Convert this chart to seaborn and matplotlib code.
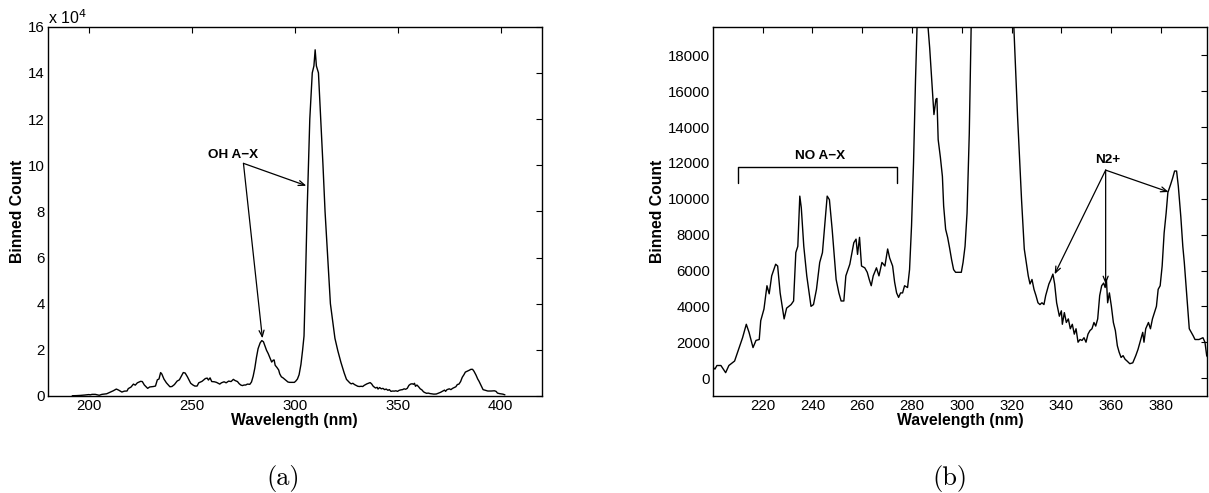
import numpy as np
import pandas as pd
import seaborn as sns
import matplotlib.pyplot as plt

# emission spectrum (wavelength in nm, binned counts)
wavelength = [
    192.0, 194.0, 196.0, 198.0, 200.0, 200.8, 201.6, 203.2, 205.1, 206.4,
    208.7, 210.3, 211.9, 213.4, 214.5, 216.1, 217.3, 218.6, 219.2, 220.5,
    221.7, 222.6, 223.6, 225.2, 226.0, 227.0, 228.6, 229.6, 231.4, 232.4,
    233.3, 234.1, 234.9, 235.5, 236.5, 237.7, 238.8, 239.4, 240.4, 241.6,
    242.9, 244.0, 244.8, 245.9, 246.8, 247.9, 249.5, 250.6, 251.5, 252.6,
    253.4, 255.0, 256.6, 257.5, 258.1, 258.9, 259.7, 261.0, 262.0, 262.8,
    263.6, 264.4, 265.7, 266.7, 267.9, 269.1, 270.2, 271.0, 272.2, 273.0,
    273.8, 274.6, 275.4, 276.2, 277.0, 278.2, 279.0, 279.8, 280.6, 281.4,
    282.2, 283.2, 284.0, 284.8, 285.6, 286.3, 287.1, 288.0, 288.8, 289.6,
    290.0, 290.5, 291.4, 292.2, 292.7, 293.5, 294.3, 295.1, 295.9, 296.7,
    297.5, 298.7, 299.8, 300.5, 301.3, 302.1, 303.0, 303.8, 304.5, 305.2,
    306.0, 307.3, 308.5, 309.3, 309.9, 310.5, 311.5, 312.6, 313.7, 314.7,
    316.0, 317.3, 318.5, 319.5, 320.9, 322.4, 324.0, 325.1, 325.9, 326.7,
    327.4, 328.2, 329.0, 329.8, 330.6, 331.4, 332.2, 333.0, 333.7, 335.0,
    335.8, 336.6, 337.3, 338.1, 339.2, 340.0, 340.4, 341.2, 342.0, 342.8,
    343.6, 344.4, 345.2, 345.9, 346.7, 347.5, 348.3, 349.1, 349.9, 350.7,
    351.5, 352.3, 353.1, 353.8, 354.6, 355.4, 356.2, 357.0, 357.6, 358.1,
    358.6, 359.3, 360.1, 360.9, 361.7, 362.5, 363.2, 364.0, 364.8, 365.6,
    366.4, 367.5, 368.7, 369.9, 370.8, 371.9, 372.7, 373.2, 373.9, 375.0,
    375.8, 376.6, 377.4, 378.2, 378.9, 379.7, 380.5, 381.3, 382.1, 382.8,
    383.9, 384.7, 385.5, 386.3, 387.0, 388.0, 388.8, 389.4, 390.3, 391.4,
    392.2, 393.0, 393.7, 395.3, 396.9, 397.7, 398.4, 399.5, 401.0, 402.0,
]
counts = [
    100, 150, 250, 400, 600, 500, 700, 700, 300, 700,
    950, 1600, 2250, 3000, 2550, 1700, 2100, 2150, 3200, 3850,
    5150, 4700, 5700, 6350, 6250, 4750, 3300, 3900, 4100, 4300,
    7000, 7350, 10150, 9500, 7350, 5700, 4600, 4000, 4100, 4950,
    6450, 7000, 8300, 10150, 9950, 8300, 5500, 4750, 4300, 4300,
    5700, 6350, 7550, 7750, 6900, 7850, 6250, 6150, 5900, 5500,
    5150, 5700, 6150, 5700, 6450, 6250, 7200, 6700, 6250, 5350,
    4750, 4500, 4750, 4750, 5150, 5050, 6050, 8500, 12000, 16650,
    20500, 23000, 24000, 23500, 21500, 19800, 18400, 16450, 14700, 15550,
    15600, 13300, 12300, 11250, 9600, 8300, 7850, 7250, 6600, 6050,
    5900, 5900, 5900, 6450, 7350, 9200, 13650, 19800, 26000, 50000,
    80000, 120000, 140000, 143000, 150000, 143000, 140000, 120000, 100000, 80000,
    60000, 40000, 32000, 25000, 19600, 14600, 9950, 7200, 6450, 5700,
    5250, 5500, 4950, 4600, 4200, 4100, 4200, 4100, 4600, 5250,
    5500, 5800, 5250, 4200, 3450, 3750, 3000, 3650, 3100, 3300,
    2750, 3000, 2450, 2750, 2000, 2150, 2100, 2250, 2000, 2450,
    2650, 2750, 3100, 2900, 3300, 4600, 5150, 5300, 5050, 5500,
    4200, 4750, 4000, 3100, 2650, 1800, 1450, 1150, 1250, 1050,
    950, 800, 850, 1250, 1600, 2150, 2550, 2000, 2750, 3100,
    2750, 3300, 3650, 4000, 4950, 5150, 6250, 8100, 9200, 10350,
    10800, 11150, 11550, 11550, 10700, 9000, 7350, 6450, 4750, 2750,
    2550, 2350, 2150, 2150, 2250, 2000, 1250, 1000, 800, 500,
]

left_yticks = [0, 2, 4, 6, 8, 10, 12, 14, 16]
left_xticks = [200, 250, 300, 350, 400]
right_yticks = [0, 2000, 4000, 6000, 8000, 10000, 12000, 14000, 16000, 18000]
right_xticks = [220, 240, 260, 280, 300, 320, 340, 360, 380]

# annotation anchors (data coords)
oh_text = (270, 10.45)
oh_origin = (275.1, 10.08)
oh_tips = [(284.3, 2.5), (305.6, 9.11)]
no_bracket_x = [210, 210, 274, 274]
no_bracket_y = [10900, 11750, 11750, 10900]
no_text = (243, 12370)
n2_text = (358.6, 12150)
n2_origin = (357.8, 11600)
n2_tips = [(337.3, 5790), (357.8, 5240), (383.1, 10380)]

df = pd.DataFrame({'wl': wavelength, 'count': counts})
df['count_e4'] = df['count'] / 1e4

sns.set_style('white')
plt.rcParams['font.family'] = ['Liberation Sans', 'DejaVu Sans']
plt.rcParams['text.color'] = 'black'
plt.rcParams['axes.labelcolor'] = 'black'

fig = plt.figure(figsize=(12.09, 4.93), dpi=100)
ax1 = fig.add_axes([0.0393, 0.1968, 0.409, 0.749])
ax2 = fig.add_axes([0.5897, 0.1968, 0.4086, 0.749])

arrow = dict(arrowstyle='->,head_length=0.45,head_width=0.18', lw=0.9,
             color='black', shrinkA=0, shrinkB=0)

# (a) full spectrum
sns.lineplot(data=df, x='wl', y='count_e4', ax=ax1, color='black', lw=1.0,
             estimator=None, sort=False)
ax1.set_xlim(180, 420)
ax1.set_ylim(0, 16)
ax1.set_xticks(left_xticks)
ax1.set_yticks(left_yticks)
ax1.text(0.0, 1.0, r'x 10$^4$', transform=ax1.transAxes, fontsize=11.5,
         ha='left', va='bottom')
ax1.text(*oh_text, 'OH A\u2212X', fontsize=9.7, fontweight='bold',
         ha='center', va='center')
for tip in oh_tips:
    ax1.annotate('', xy=tip, xytext=oh_origin, arrowprops=arrow)

# (b) zoom on the weak bands
sns.lineplot(data=df, x='wl', y='count', ax=ax2, color='black', lw=1.0,
             estimator=None, sort=False)
ax2.set_xlim(200, 398.5)
ax2.set_ylim(-1000, 19600)
ax2.set_xticks(right_xticks)
ax2.set_yticks(right_yticks)
ax2.plot(no_bracket_x, no_bracket_y, color='black', lw=1.0)
ax2.text(*no_text, 'NO A\u2212X', fontsize=9.7, fontweight='bold',
         ha='center', va='center')
ax2.text(*n2_text, 'N2+', fontsize=9.7, fontweight='bold',
         ha='center', va='center')
for tip in n2_tips:
    ax2.annotate('', xy=tip, xytext=n2_origin, arrowprops=arrow)

for ax in (ax1, ax2):
    ax.set_xlabel('Wavelength (nm)', fontsize=11.3, fontweight='bold', labelpad=0)
    ax.set_ylabel('Binned Count', fontsize=11.3, fontweight='bold', labelpad=2)
    ax.tick_params(direction='in', length=4, width=0.8, labelsize=10.8,
                   top=True, right=True, pad=2, colors='black')
    for s in ax.spines.values():
        s.set_color('black')
        s.set_linewidth(1.0)

fig.text(283 / 1209, 1 - 478 / 493, '(a)', fontsize=19, family='cmr10',
         ha='center', va='center')
fig.text(950 / 1209, 1 - 478 / 493, '(b)', fontsize=19, family='cmr10',
         ha='center', va='center')

fig.savefig('out.png', dpi=100)
